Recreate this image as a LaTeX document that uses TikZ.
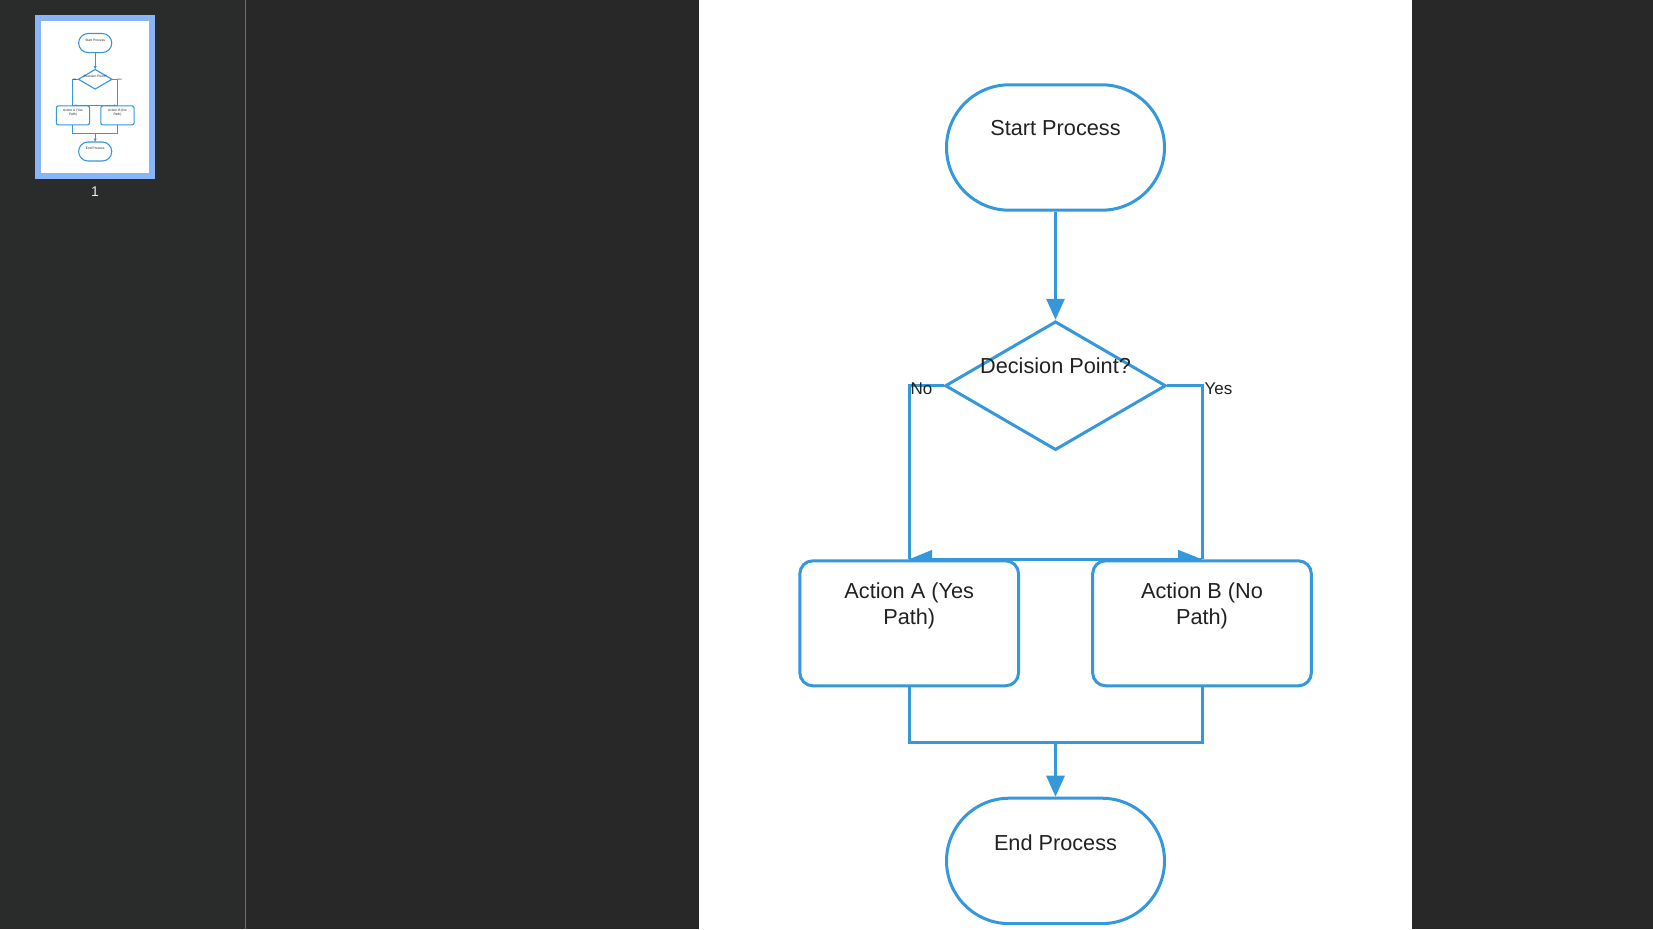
\documentclass[tikz,border=0pt]{standalone}
\usepackage{fontspec}
\setmainfont{Liberation Sans}
\usetikzlibrary{arrows.meta,shapes.geometric,shapes.misc}
\definecolor{bg}{RGB}{40,40,40}
\definecolor{sidebar}{RGB}{42,43,43}
\definecolor{sideline}{RGB}{110,110,110}
\definecolor{flow}{RGB}{52,152,219}
\definecolor{ink}{RGB}{34,34,34}
\definecolor{thumbframe}{RGB}{138,180,248}
\definecolor{thumbnum}{RGB}{235,235,235}

\newcommand{\chartlw}{3pt}
\newcommand{\arrlen}{21pt}
\newcommand{\arrwid}{18pt}
\newcommand{\boxrc}{13pt}
\newcommand{\mainfs}{\fontsize{21.7pt}{26pt}\selectfont}
\newcommand{\lblfs}{\fontsize{17pt}{20pt}\selectfont}
\newcommand{\liftlabel}[2]{\makebox[0pt]{\raisebox{#1}[0pt][0pt]{#2}}}

\tikzset{
  flowline/.style={draw=flow, line width=\chartlw},
  tipline/.style={draw=flow, line width=\chartlw, -{Triangle[length=\arrlen,width=\arrwid]}},
  terminal/.style={rounded rectangle, draw=flow, line width=\chartlw, fill=white,
    minimum width=218pt, minimum height=125.4pt, inner sep=0pt, text=ink, font=\mainfs},
  decision/.style={diamond, draw=flow, line width=\chartlw, fill=white,
    minimum width=220.8pt, minimum height=128.8pt, inner sep=0pt, text=ink, font=\mainfs},
  actionbox/.style={rectangle, rounded corners=\boxrc, draw=flow, line width=\chartlw, fill=white,
    minimum width=218.7pt, minimum height=125pt, inner sep=0pt, text=ink, font=\mainfs},
  branchlbl/.style={font=\lblfs, text=ink, inner sep=0pt, anchor=west},
  wedge/.style={fill=flow},
}

\newcommand{\flowchart}{%
  \node[terminal] (start) at (1055.5,147.5) {\liftlabel{12.5pt}{Start Process}};
  \node[decision] (dia) at (1055.5,385.7) {\liftlabel{12.4pt}{Decision Point?}};
  \node[actionbox] (A) at (909.2,623.3) {\liftlabel{24.8pt}{\begin{tabular}[t]{@{}c@{}}Action A (Yes\\Path)\end{tabular}}};
  \node[actionbox] (B) at (1202,623.3) {\liftlabel{24.8pt}{\begin{tabular}[t]{@{}c@{}}Action B (No\\Path)\end{tabular}}};
  \node[terminal] (end) at (1055.5,860.9) {\liftlabel{10.9pt}{End Process}};
  \coordinate (m) at (1055.5,742);
  \draw[tipline] (start.south) -- (dia.north);
  \draw[flowline] (dia.west) -| node[branchlbl, pos=0.5, xshift=0pt, yshift=-3.3pt] {No} (A.north);
  \draw[flowline] (dia.east) -| node[branchlbl, pos=0.5, xshift=1pt, yshift=-3.3pt] {Yes} (B.north);
  \draw[flowline] (A.north) -- (B.north);
  \fill[wedge] (A.north) -- ++(23,-9.5) -- ++(0,9.5) -- cycle;
  \fill[wedge] (B.north) -- ++(-24,-9.5) -- ++(0,9.5) -- cycle;
  \draw[flowline] (A.south) |- (m) -| (B.south);
  \draw[tipline] (m) -- (end.north);
}

\begin{document}
\begin{tikzpicture}[x=1pt, y=-1pt]
  \useasboundingbox (0,0) rectangle (1653,929);
  \fill[bg] (0,0) rectangle (1653,929);
  \fill[sidebar] (0,0) rectangle (245,929);
  \draw[sideline, line width=1.5pt] (245.5,0) -- (245.5,929);
  % page
  \fill[white] (699,0) rectangle (1412,929);
  \flowchart
  % thumbnail
  \fill[thumbframe] (35,15) rectangle (155,179);
  \fill[white] (41,21) rectangle (149.3,172.7);
  \node[text=thumbnum, font=\fontsize{14pt}{16pt}\selectfont, inner sep=0pt] (pagenum) at (95,192) {1};
  \begin{scope}[shift={(41,21)}, scale=0.152, shift={(-699,-2.4)}, transform shape, name prefix=thumb-]
    \renewcommand{\chartlw}{1.1pt}
    \renewcommand{\arrlen}{3.2pt}
    \renewcommand{\arrwid}{2.7pt}
    \renewcommand{\boxrc}{2pt}
    \flowchart
  \end{scope}
\end{tikzpicture}
\end{document}
